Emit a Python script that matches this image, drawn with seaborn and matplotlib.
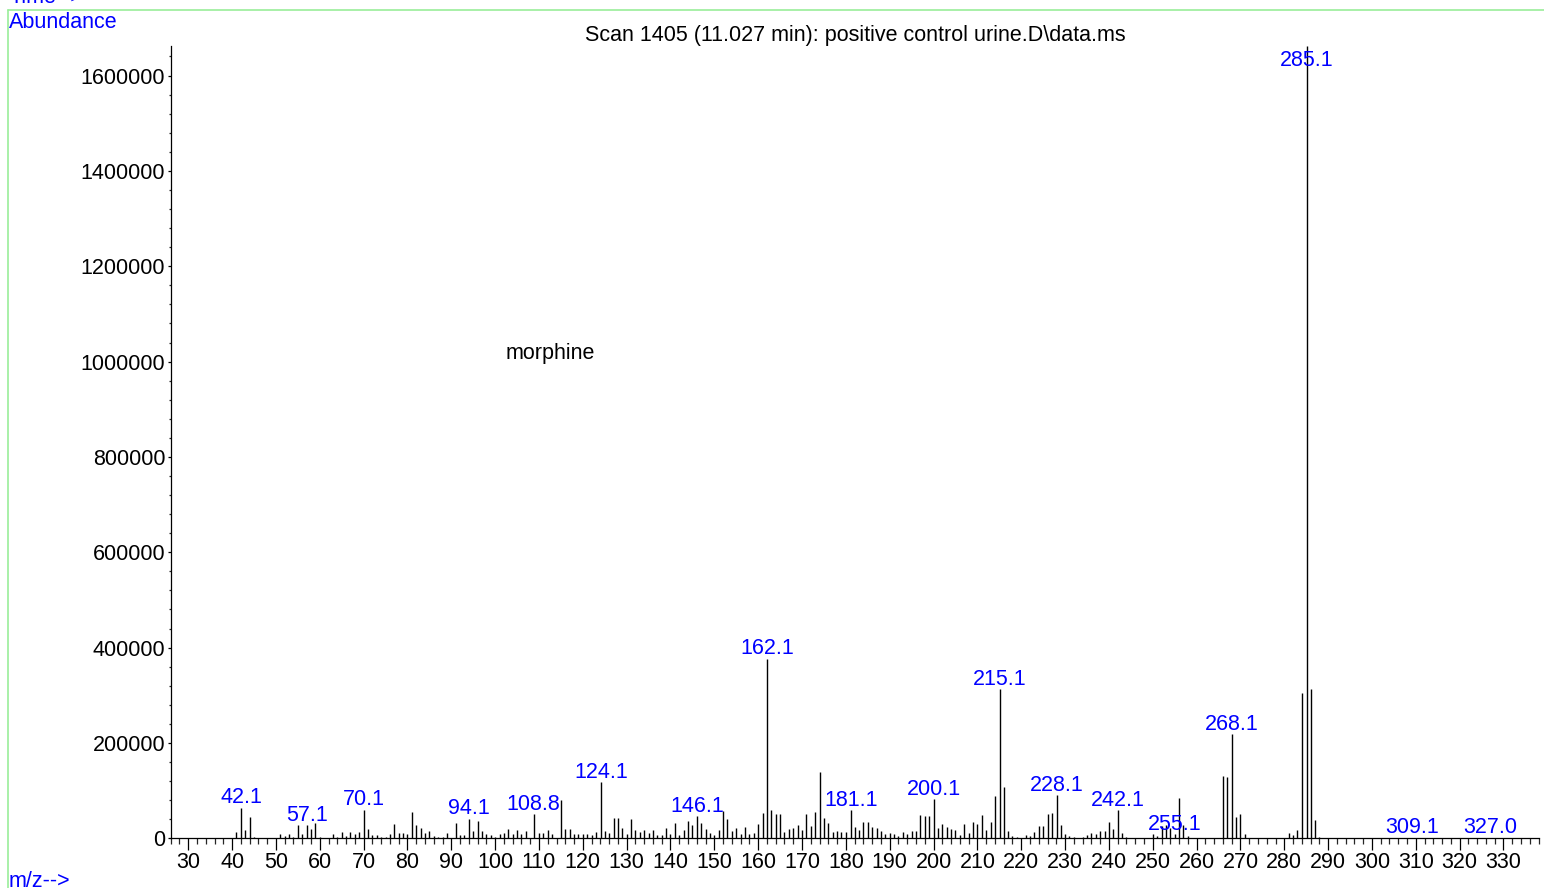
import numpy as np
import matplotlib
matplotlib.use("Agg")
import matplotlib.pyplot as plt
from matplotlib.lines import Line2D
from matplotlib.ticker import MultipleLocator, StrMethodFormatter
import seaborn as sns

# Mass spectrum, scan 1405
mz = [41, 42.1, 43, 44, 45,
      51, 52, 53, 54, 55, 56, 57.1, 58, 59, 60,
      63, 64, 65, 66, 67, 68, 69, 70.1, 71, 72, 73, 74, 75, 76, 77, 78, 79, 80,
      81, 82, 83, 84, 85, 86, 87, 88, 89, 91, 92, 93, 94.1, 95, 96, 97, 98, 99, 100,
      101, 102, 103, 104, 105, 106, 107, 108.8, 110, 111, 112, 113, 115, 116, 117, 118,
      119, 120, 121, 122, 123, 124.1, 125, 126, 127, 128, 129, 130, 131, 132, 133, 134,
      135, 136, 137, 138, 139, 140, 141, 142, 143, 144, 145, 146.1, 147, 148, 149, 150,
      151, 152, 153, 154, 155, 156, 157, 158, 159, 160, 161, 162.1, 163, 164, 165, 166,
      167, 168, 169, 170, 171, 172, 173, 174, 175, 176, 177, 178, 179, 180, 181.1, 182,
      183, 184, 185, 186, 187, 188, 189, 190, 191, 192, 193, 194, 195, 196, 197, 198,
      199, 200.1, 201, 202, 203, 204, 205, 206, 207, 208, 209, 210, 211, 212, 213, 214,
      215.1, 216, 217, 218, 219, 221, 222, 223, 224, 225, 226, 227, 228.1, 229, 230, 231,
      232, 234, 235, 236, 237, 238, 239, 240, 241, 242.1, 243, 244, 250, 251, 252, 253,
      254, 255.1, 256, 257, 258, 266, 267, 268.1, 269, 270, 271, 281, 282, 283, 284,
      285.1, 286, 287, 288, 309.1, 327.0]
abundance = [14000, 64000, 17000, 45000, 2000,
             8000, 5000, 10000, 3000, 27000, 9000, 28000, 19000, 32000, 2000,
             8000, 2000, 14000, 5000, 13000, 10000, 13000, 60000, 20000, 6000, 6000, 3000, 3000, 8000, 31000, 11000, 11000, 9000,
             55000, 28000, 21000, 12000, 15000, 4000, 3000, 3000, 12000, 32000, 7000, 7000, 41000, 16000, 37000, 16000, 8000, 7000, 3000,
             10000, 11000, 20000, 10000, 17000, 10000, 15000, 51000, 12000, 11000, 17000, 9000, 80000, 19000, 20000, 10000,
             9000, 9000, 8000, 7000, 13000, 118000, 16000, 11000, 43000, 43000, 21000, 9000, 40000, 17000, 13000, 17000,
             11000, 17000, 7000, 6000, 21000, 8000, 33000, 6000, 18000, 36000, 28000, 47000, 33000, 20000, 12000, 7000,
             17000, 57000, 40000, 16000, 21000, 10000, 24000, 10000, 12000, 29000, 54000, 377000, 59000, 52000, 50000, 13000,
             19000, 22000, 28000, 17000, 52000, 25000, 55000, 139000, 43000, 33000, 14000, 15000, 13000, 14000, 59000, 24000,
             17000, 34000, 35000, 24000, 22000, 15000, 8000, 11000, 8000, 5000, 13000, 10000, 15000, 16000, 49000, 46000,
             47000, 82000, 21000, 31000, 24000, 20000, 17000, 7000, 30000, 12000, 34000, 29000, 49000, 18000, 35000, 89000,
             313000, 108000, 15000, 5000, 3000, 6000, 5000, 13000, 26000, 25000, 51000, 54000, 91000, 27000, 9000, 5000,
             2000, 3000, 7000, 11000, 10000, 15000, 15000, 34000, 20000, 59000, 11000, 3000, 9000, 4000, 25000, 27000,
             22000, 9000, 84000, 27000, 4000, 131000, 129000, 218000, 45000, 50000, 8000, 11000, 7000, 18000, 304000,
             1662000, 313000, 39000, 3000, 1500, 1500]

label_mz = [42.1, 57.1, 70.1, 94.1, 108.8, 124.1, 146.1, 162.1, 181.1, 200.1,
            215.1, 228.1, 242.1, 255.1, 268.1, 285.1, 309.1, 327.0]
label_text = ["42.1", "57.1", "70.1", "94.1", "108.8", "124.1", "146.1", "162.1", "181.1",
              "200.1", "215.1", "228.1", "242.1", "255.1", "268.1", "285.1", "309.1", "327.0"]

title = "Scan 1405 (11.027 min): positive control urine.D\\data.ms"
compound = "morphine"

sns.set_theme(style="ticks")
plt.rcParams["font.family"] = ["Liberation Sans", "DejaVu Sans"]

W, H = 1544, 888
FS = 15.5
fig = plt.figure(figsize=(W / 100, H / 100), dpi=100)
ax = fig.add_axes([170.7 / W, 1 - 838.3 / H, (1539 - 170.7) / W, (838.3 - 46) / H])

mz_arr = np.array(mz)
ab_arr = np.array(abundance)
ax.vlines(mz_arr, 0, ab_arr, color="black", lw=1.0)

ax.set_xlim(26.0, 338.1)
ax.set_ylim(0, 1662000)

# peak labels, clamped so the big one stays inside the plot
lookup = dict(zip(mz, abundance))
for m, t in zip(label_mz, label_text):
    y = min(lookup[m], 1610000)
    ax.annotate(t, (m, y), xytext=(0, 3.1), textcoords="offset points",
                ha="center", va="baseline", color="#0000ff", fontsize=FS)

ax.text(112.5, 1016000, compound, ha="center", va="center", fontsize=FS, color="black")
ax.set_title(title, fontsize=FS, pad=1, color="black")

ax.xaxis.set_major_locator(MultipleLocator(10))
ax.xaxis.set_minor_locator(MultipleLocator(2))
ax.yaxis.set_major_locator(MultipleLocator(200000))
ax.yaxis.set_minor_locator(MultipleLocator(40000))
ax.yaxis.set_major_formatter(StrMethodFormatter("{x:.0f}"))
ax.tick_params(axis="x", which="major", length=8.6, width=0.9, pad=1, labelsize=FS, colors="black")
ax.tick_params(axis="x", which="minor", length=4, width=0.9)
ax.tick_params(axis="y", which="major", length=2, width=0.9, pad=2, labelsize=FS, colors="black")
ax.tick_params(axis="y", which="minor", length=1.2, width=0.9)
ax.set_xlabel("")
ax.set_ylabel("")
sns.despine(ax=ax)
for s in ["left", "bottom"]:
    ax.spines[s].set_linewidth(0.9)
    ax.spines[s].set_color("black")

# ChemStation-style frame and axis captions
green = "#99ee99"
fig.add_artist(Line2D([8.3 / W, 1], [1 - 10 / H, 1 - 10 / H], color=green, lw=1.2))
fig.add_artist(Line2D([8.3 / W, 8.3 / W], [0, 1 - 10 / H], color=green, lw=1.2))
fig.text(9 / W, 1 + 2 / H, "Time-->", color="#0000ff", fontsize=FS, va="center", ha="left")
fig.text(9 / W, 1 - 22 / H, "Abundance", color="#0000ff", fontsize=FS, va="center", ha="left")
fig.text(9 / W, 1 - 881 / H, "m/z-->", color="#0000ff", fontsize=FS, va="center", ha="left")

fig.savefig("out.png", dpi=100)
